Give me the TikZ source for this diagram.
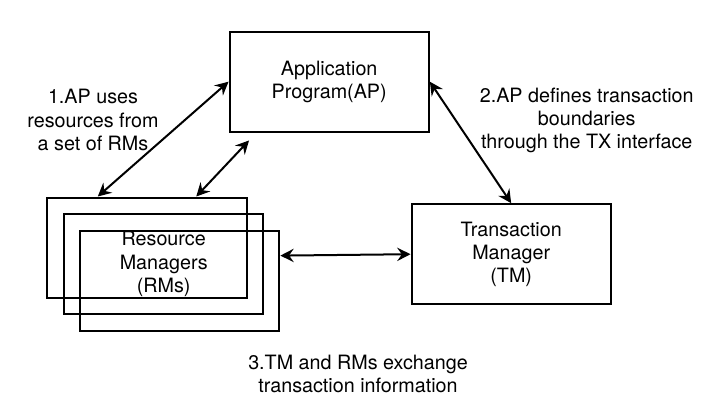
\documentclass[tikz,border=0pt]{standalone}
\usepackage{fontspec}
\setmainfont{TeX Gyre Heros}
\usetikzlibrary{arrows.meta}

\tikzset{
  box/.style={draw, line width=1.5pt, minimum width=149.5pt, minimum height=75pt, inner sep=0pt, align=center},
  link/.style={line width=1.5pt, {Stealth[length=10pt,width=10pt,inset=3.5pt]}-{Stealth[length=10pt,width=10pt,inset=3.5pt]}},
  note/.style={align=center, inner sep=0pt},
}

\begin{document}
\begin{tikzpicture}[x=0.75pt,y=0.75pt,yscale=-1,xscale=1, font=\fontsize{14.8}{17.4}\selectfont]
    \useasboundingbox (0,0) rectangle (717,412);

    %Shape: Rectangle (AP)
    \node [box] (ap) at (329.2,81.7) {Application\\Program(AP)};
    %Shape: Rectangle (TM)
    \node [box] (tm) at (511.2,254.2) {Transaction\\Manager\\(TM)};
    %Shape: Rectangle (RMs, stacked)
    \node [box] (rm1) at (147,247.5) {};
    \node [box] (rm2) at (163.7,264) {Resource\\Managers\\(RMs)};
    \node [box] (rm3) at (179.7,280.7) {};

    %Straight Lines
    \draw [link] (rm1.134) -- (ap.west);
    \draw [link, shorten >=8pt] (rm1.46) -- (ap.215);
    \draw [link] (rm3.14) -- (tm.west);
    \draw [link] (ap.east) -- (tm.north);

    %Text
    \node [note] (use) at (93,120) {1.AP uses\\resources from\\a set of RMs};
    \node [note] (tx) at (586.7,120.2) {2.AP defines transaction\\boundaries\\through the TX interface};
    \node [note] (xch) at (358,373.7) {3.TM and RMs exchange\\transaction information};

\end{tikzpicture}
\end{document}
